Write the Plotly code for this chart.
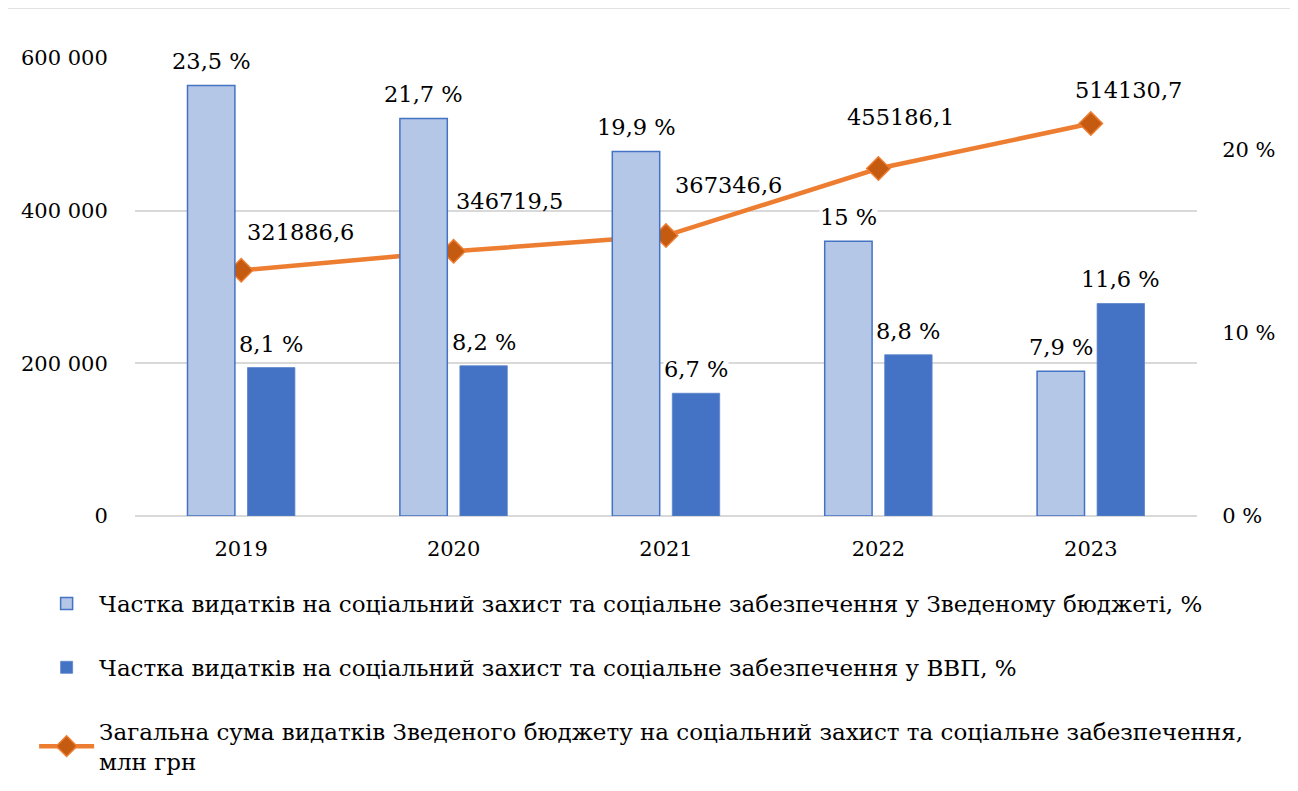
import plotly.graph_objects as go

years = ["2019", "2020", "2021", "2022", "2023"]
share_budget = [23.5, 21.7, 19.9, 15.0, 7.9]
share_gdp = [8.1, 8.2, 6.7, 8.8, 11.6]
total_spend = [321886.6, 346719.5, 367346.6, 455186.1, 514130.7]

name_budget = "Частка видатків на соціальний захист та соціальне забезпечення у Зведеному бюджеті, %"
name_gdp = "Частка видатків на соціальний захист та соціальне забезпечення у ВВП, %"
name_total = "Загальна сума видатків Зведеного бюджету на соціальний захист та соціальне забезпечення,<br>млн грн"

FONT = "DejaVu Serif"
LIGHT = "#B4C7E7"
BLUE = "#4472C4"
ORANGE = "#ED7D31"
DARK_OR = "#C55A11"
TICK_SIZE = 21
LABEL_SIZE = 22.5
LEG_SIZE = 23

def pct(v):
    return f"{v:g}".replace(".", ",") + " %"

def num(v):
    return f"{v:.1f}".replace(".", ",")

fig = go.Figure()
fig.add_trace(go.Bar(
    x=years, y=share_budget, name=name_budget, yaxis="y2",
    marker=dict(color=LIGHT, line=dict(color=BLUE, width=1.5)),
    legendgroup="a", hoverinfo="skip",
))
fig.add_trace(go.Bar(
    x=years, y=share_gdp, name=name_gdp, yaxis="y2",
    marker=dict(color=BLUE, line=dict(color="#5B84CC", width=0.8)),
    legendgroup="b", hoverinfo="skip",
))
fig.add_trace(go.Scatter(
    x=years, y=total_spend, name=name_total, yaxis="y",
    mode="lines+markers",
    line=dict(color=ORANGE, width=4.5),
    marker=dict(symbol="diamond", size=18, color=DARK_OR, line=dict(color=ORANGE, width=1.5)),
    legendgroup="c", hoverinfo="skip",
))

annotations = []
# category index i is used as the annotation x on the category axis
for i, y in enumerate(years):
    annotations.append(dict(x=i, y=share_budget[i], yref="y2", xref="x", text=pct(share_budget[i]),
                            showarrow=False, xshift=-30, yshift=24, yanchor="middle",
                            font=dict(family=FONT, size=LABEL_SIZE, color="#000"), bgcolor="white", borderpad=0))
    annotations.append(dict(x=i, y=share_gdp[i], yref="y2", xref="x", text=pct(share_gdp[i]),
                            showarrow=False, xshift=30, yshift=24, yanchor="middle",
                            font=dict(family=FONT, size=LABEL_SIZE, color="#000"), bgcolor="white", borderpad=0))
line_offsets = [(59, 38), (56, 50), (62, 51), (22, 52), (38, 34)]
for i, y in enumerate(years):
    dx, dy = line_offsets[i]
    annotations.append(dict(x=i, y=total_spend[i], yref="y", xref="x", text=num(total_spend[i]),
                            showarrow=False, xshift=dx, yshift=dy, yanchor="middle",
                            font=dict(family=FONT, size=LABEL_SIZE, color="#000")))

PW, PH = 1062, 458
fig.update_layout(
    width=1290, height=800,
    margin=dict(l=127, r=101, t=50, b=292),
    paper_bgcolor="white", plot_bgcolor="white",
    font=dict(family=FONT, size=TICK_SIZE, color="#000"),
    barmode="group", bargap=0.435, bargroupgap=0.21,
    showlegend=True,
    legend=dict(
        orientation="v", x=-0.095, xanchor="left", y=-0.144, yanchor="top",
        font=dict(family=FONT, size=LEG_SIZE, color="#000"),
        tracegroupgap=31, itemwidth=55, traceorder="grouped",
        bgcolor="rgba(0,0,0,0)",
    ),
    xaxis=dict(
        type="category", range=[-0.5, 4.5], showgrid=False, showline=False, zeroline=False,
        ticks="outside", ticklen=14, tickcolor="rgba(0,0,0,0)", automargin=False,
        tickfont=dict(family=FONT, size=TICK_SIZE, color="#000"),
    ),
    yaxis=dict(
        range=[0, 600000], tickvals=[0, 200000, 400000, 600000],
        ticktext=["0", "200 000", "400 000", "600 000"],
        showgrid=True, gridcolor="#D9D9D9", gridwidth=1.5,
        zeroline=True, zerolinecolor="#D9D9D9", zerolinewidth=1.5,
        showline=False, ticks="outside", ticklen=22, tickcolor="rgba(0,0,0,0)", automargin=False,
        tickfont=dict(family=FONT, size=TICK_SIZE, color="#000"),
    ),
    yaxis2=dict(
        overlaying="y", side="right", range=[0, 25], tickvals=[0, 10, 20],
        ticktext=["0 %", "10 %", "20 %"], showgrid=False, zeroline=False, showline=False,
        ticks="outside", ticklen=20, tickcolor="rgba(0,0,0,0)", automargin=False,
        tickfont=dict(family=FONT, size=TICK_SIZE, color="#000"),
    ),
    annotations=annotations,
    shapes=[dict(type="rect", xref="paper", yref="paper",
                 x0=(7 - 135) / PW, x1=(1292 - 135) / PW,
                 y0=(516 - 840) / PH, y1=(516 - 8) / PH,
                 line=dict(color="#D9D9D9", width=1.5), fillcolor="rgba(0,0,0,0)", layer="below")],
)

fig.write_html("out.html")
